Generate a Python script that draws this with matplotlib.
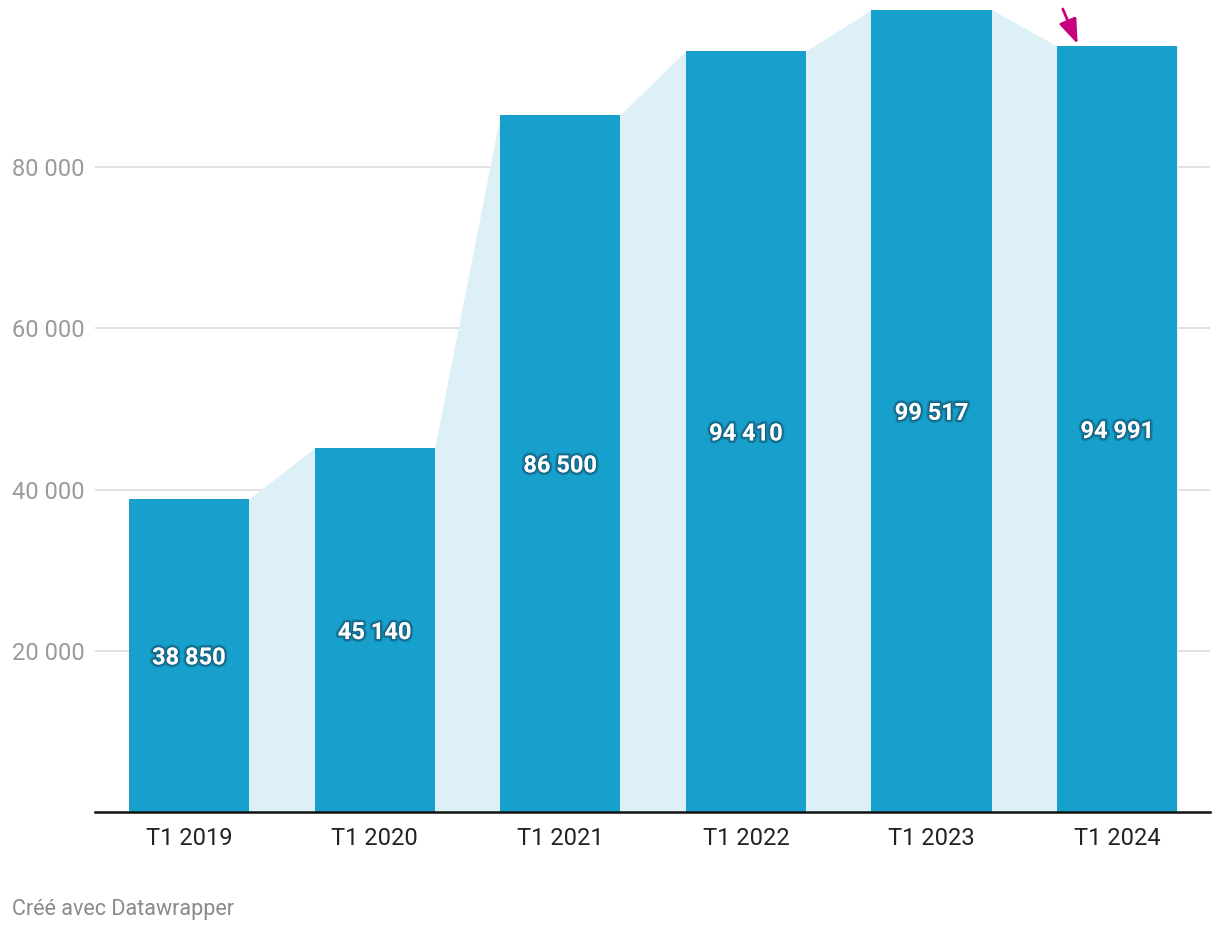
import matplotlib
matplotlib.use("Agg")
import matplotlib.pyplot as plt
import matplotlib.patheffects as pe
import numpy as np

categories = ["T1 2019", "T1 2020", "T1 2021", "T1 2022", "T1 2023", "T1 2024"]
values = [38850, 45140, 86500, 94410, 99517, 94991]
value_labels = ["38 850", "45 140", "86 500", "94 410", "99 517", "94 991"]
yticks = [20000, 40000, 60000, 80000]
ytick_labels = ["20 000", "40 000", "60 000", "80 000"]

plt.rcParams['font.family'] = ['Roboto', 'DejaVu Sans']

fig = plt.figure(figsize=(12.2, 9.32), dpi=100)
ax = fig.add_axes([95/1220, 120/932, 1115/1220, 811/932])

x = np.arange(len(categories))
w = 0.647
bar_color = "#18a0cc"
area_color = "#ddf0f7"

# connecting area
xs, ys = [], []
for xi, v in zip(x, values):
    xs += [xi - w/2, xi + w/2]
    ys += [v, v]
ax.fill_between(xs, ys, 0, color=area_color, lw=0, zorder=1)

ax.bar(x, values, width=w, color=bar_color, zorder=2)

for xi, v, lab in zip(x, values, value_labels):
    ax.text(xi, v/2, lab, ha="center", va="center_baseline", color="white",
            fontsize=17, fontweight="bold", zorder=4,
            path_effects=[pe.withStroke(linewidth=4, foreground="#0d4f69", alpha=0.4),
                          pe.withStroke(linewidth=2, foreground="#0d4f69", alpha=0.5)])

ax.set_xlim(-0.506, 5.5)
ax.set_ylim(0, 100590)
ax.set_xticks(x)
ax.set_xticklabels(categories, fontsize=17, color="#222222")
ax.set_yticks(yticks)
ax.set_yticklabels(ytick_labels, fontsize=17, color="#9a9a9a")
for t in ax.get_yticklabels():
    t.set_horizontalalignment("left")
ax.tick_params(axis="y", length=0, pad=60)
ax.tick_params(axis="x", length=0, pad=10.5)
ax.grid(axis="y", color="#e1e1e1", lw=1.4, zorder=0)
ax.set_axisbelow(True)
for s in ["top", "right", "left"]:
    ax.spines[s].set_visible(False)
ax.spines["bottom"].set_color("#111111")
ax.spines["bottom"].set_linewidth(1.8)
ax.spines["bottom"].set_zorder(5)

ax.annotate("", xy=(4.787, 95250), xytext=(4.707, 99600),
            arrowprops=dict(arrowstyle="-|>,head_length=1.5,head_width=0.55",
                            color="#c8007e", lw=2, shrinkA=0, shrinkB=0),
            annotation_clip=False, zorder=6)

fig.text(12/1220, 1 - 910/932, "Créé avec Datawrapper", fontsize=15.5, color="#8a8a8a",
         ha="left", va="center")

fig.savefig("out.png", dpi=100)
